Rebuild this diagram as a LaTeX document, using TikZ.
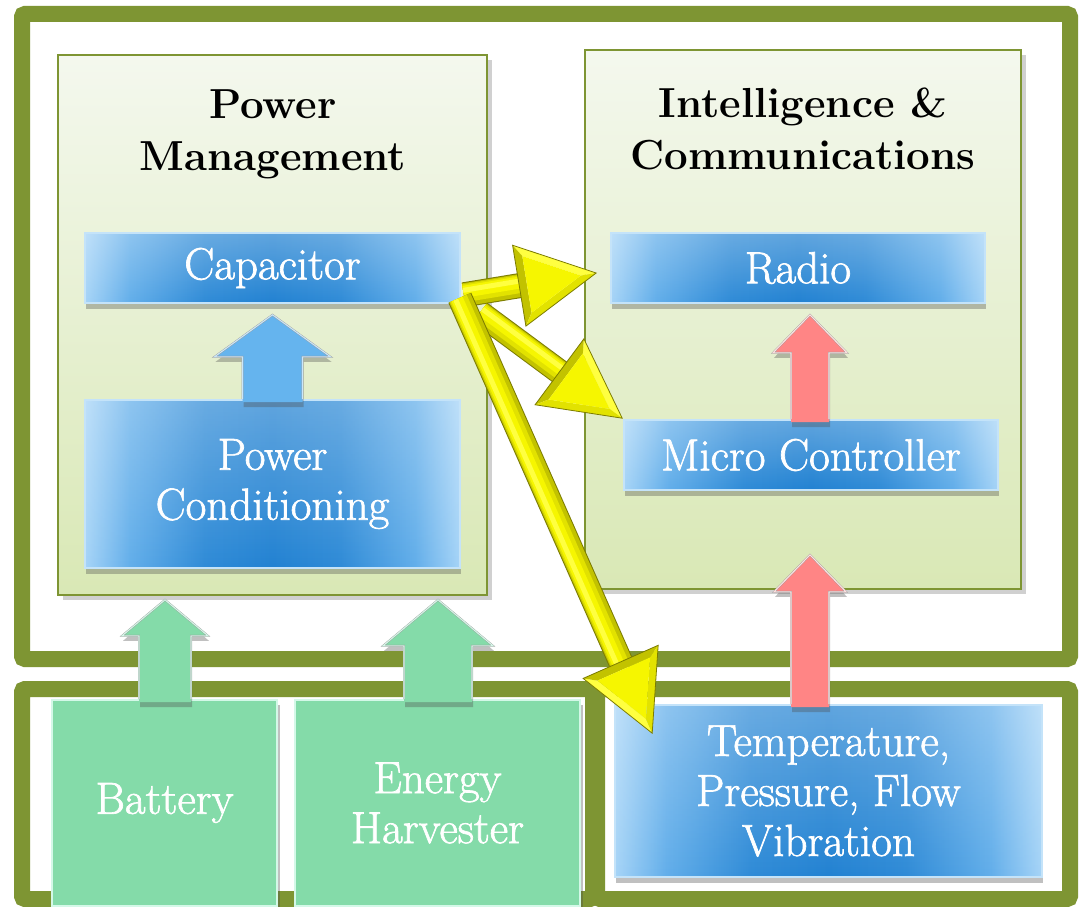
\documentclass[tikz,border=0pt]{standalone}
\usepackage{fontspec}
\usetikzlibrary{calc,shadows,fadings}

\newfontfamily\boxfont{Latin Modern Roman}[FakeBold=1.5]

\definecolor{frameOlive}{HTML}{7E9533}
\definecolor{panelTop}{HTML}{F4F8EE}
\definecolor{panelBot}{HTML}{D9E8B5}
\definecolor{blueLight}{HTML}{A6D4F7}
\definecolor{blueMid}{HTML}{62AEEA}
\definecolor{blueDeep}{HTML}{2282D2}
\definecolor{blueRim}{HTML}{C4E3F9}
\definecolor{seafoam}{HTML}{84DBA9}
\definecolor{seafoamRim}{HTML}{D4F8E8}
\definecolor{salmon}{HTML}{FF8585}
\definecolor{salmonRim}{HTML}{FFE0E0}
\definecolor{skyArrow}{HTML}{65B4EE}
\definecolor{skyRim}{HTML}{C9E6FA}
\definecolor{yOutline}{HTML}{7C7C00}
\definecolor{yDark}{HTML}{C2C200}
\definecolor{yMid}{HTML}{E2E200}
\definecolor{yMain}{HTML}{F6F600}
\definecolor{yBright}{HTML}{FFFF40}

% blue bar: light at both ends, deep in the middle
\pgfdeclarehorizontalshading{bluebar}{100bp}{%
  color(0bp)=(blueLight); color(25bp)=(blueLight); color(31bp)=(blueMid);
  color(41bp)=(blueDeep!80!blueMid); color(50bp)=(blueDeep);
  color(59bp)=(blueDeep!80!blueMid); color(69bp)=(blueMid);
  color(75bp)=(blueLight); color(100bp)=(blueLight)}
% soft light falling on the upper part of the blue bars
\tikzfading[name=glowtop, top color=transparent!72, bottom color=transparent!100]

\tikzset{
  frameline/.style={draw=frameOlive, line width=16pt, rounded corners=3pt},
  panel/.style={rectangle, draw=frameOlive, line width=1.6pt, top color=panelTop,
    bottom color=panelBot, inner sep=0pt,
    drop shadow={shadow xshift=5pt, shadow yshift=-5pt, opacity=0.3, fill=black!60}},
  paneltitle/.style={font=\fontsize{42}{52}\selectfont\bfseries, align=center, text=black},
  boxtext/.style={text=white, align=center, font=\boxfont\fontsize{45}{50}\selectfont},
  bluebox/.style={rectangle, shade, shading=bluebar, draw=blueRim, line width=1.6pt,
    inner sep=0pt, boxtext,
    path picture={\fill[white, path fading=glowtop]
      (path picture bounding box.south west) rectangle (path picture bounding box.north east);},
    drop shadow={shadow xshift=1pt, shadow yshift=-6pt, opacity=0.35, fill=black!70}},
  greenbox/.style={rectangle, fill=seafoam, draw=seafoamRim, line width=1.6pt,
    inner sep=0pt, boxtext,
    drop shadow={shadow xshift=3pt, shadow yshift=-5pt, opacity=0.35, fill=black!70}},
}

% upward block arrow: fill, rim, tail anchor, tip, head half width, head length, shaft half width
\newcommand\flowarrow[7]{%
  \fill[#1, drop shadow={shadow xshift=1pt, shadow yshift=-5pt, opacity=0.35, fill=black!70}]
    let \p1=(#3), \p2=(#4) in
    (\x2-#7,\y1-3) -- (\x2-#7,\y2-#6) -- (\x2-#5,\y2-#6) -- (\x2,\y2)
    -- (\x2+#5,\y2-#6) -- (\x2+#7,\y2-#6) -- (\x2+#7,\y1-3) -- cycle;
  \draw[draw=black!40, double=#2, double distance=1.1pt, line width=0.35pt, line join=miter]
    let \p1=(#3), \p2=(#4) in
    (\x2-#7,\y1) -- (\x2-#7,\y2-#6) -- (\x2-#5,\y2-#6) -- (\x2,\y2)
    -- (\x2+#5,\y2-#6) -- (\x2+#7,\y2-#6) -- (\x2+#7,\y1);
}

% bevelled yellow arrow: tail, tip, lit side angle, shaded side angle
\newcommand\boltarrow[4]{%
  \coordinate (ya) at (#1);
  \coordinate (yt) at (#2);
  \coordinate (yb) at ($(yt)!78pt!(ya)$);
  \coordinate (ye) at ($(yb)!4pt!(yt)$);
  \coordinate (yl) at ($(yb)!41pt!#3:(yt)$);
  \coordinate (yd) at ($(yb)!41pt!#4:(yt)$);
  \coordinate (yg) at ($0.3333*(yt)+0.3333*(yl)+0.3334*(yd)$);
  \coordinate (yt2) at ($(yg)!0.7!(yt)$);
  \coordinate (yl2) at ($(yg)!0.7!(yl)$);
  \coordinate (yd2) at ($(yg)!0.7!(yd)$);
  % shaft built from nested strokes
  \draw[line width=25pt, yOutline] (ya) -- (ye);
  \draw[line width=23pt, yDark] (ya) -- (ye);
  \draw[line width=18pt, yMid] ($(ya)!1.5pt!#3:(ye)$) -- ($(ye)!1.5pt!#4:(ya)$);
  \draw[line width=12pt, yMain] ($(ya)!3pt!#3:(ye)$) -- ($(ye)!3pt!#4:(ya)$);
  \draw[line width=5pt, yBright] ($(ya)!4.5pt!#3:(ye)$) -- ($(ye)!4.5pt!#4:(ya)$);
  % head with bevelled facets
  \fill[yBright] (yt) -- (yl) -- (yl2) -- (yt2) -- cycle;
  \fill[yDark] (yl) -- (yd) -- (yd2) -- (yl2) -- cycle;
  \fill[yMid] (yd) -- (yt) -- (yt2) -- (yd2) -- cycle;
  \fill[yMain] (yt2) -- (yl2) -- (yd2) -- cycle;
  \draw[yOutline, line width=0.8pt, line join=miter] (yt) -- (yl) -- (yd) -- cycle;
}

\begin{document}
\begin{tikzpicture}[x=1pt, y=-1pt]
\useasboundingbox (0,0) rectangle (1080,907);
\fill[white] (0,0) rectangle (1080,907);

% olive frames
\draw[frameline] (22,14) rectangle (1070,659);
\draw[frameline] (22,689) rectangle (593,899);
\draw[frameline] (597,689) rectangle (1070,899);

% panels
\node[panel, minimum width=429pt, minimum height=540pt] (pm) at (272.5,325) {};
\node[panel, minimum width=436pt, minimum height=539pt] (ic) at (803,319.5) {};
\node[paneltitle] (pmtitle) at (273,134) {Power\\Management};
\node[paneltitle] (ictitle) at (803,129) {Intelligence \&\\Communications};

% blocks inside the panels
\node[bluebox, minimum width=375pt, minimum height=70pt] (cap) at (272.5,268) {Capacitor};
\node[bluebox, minimum width=375pt, minimum height=168pt] (pc) at (272.5,484) {Power\\Conditioning};
\node[bluebox, minimum width=374pt, minimum height=70pt] (radio) at (798,268) {Radio};
\node[bluebox, minimum width=374pt, minimum height=70pt] (micro) at (811,455) {Micro Controller};

\flowarrow{skyArrow}{skyRim}{pc.north}{$(cap.south)+(0,11)$}{58}{42}{30}
\flowarrow{salmon}{salmonRim}{micro.north}{$(radio.south)+(12,11)$}{37}{38}{19}

% sources and sensors
\node[greenbox, minimum width=225pt, minimum height=206pt] (bat) at (164.5,803) {Battery};
\node[greenbox, minimum width=285pt, minimum height=206pt] (eh) at (437.5,803) {Energy\\Harvester};
\node[bluebox, minimum width=427pt, minimum height=172pt] (temp) at (828.5,791) {Temperature,\\Pressure, Flow\\Vibration};

\flowarrow{seafoam}{seafoamRim}{bat.north}{$(pm.south)+(-107.5,4)$}{43}{36}{26}
\flowarrow{seafoam}{seafoamRim}{eh.north}{$(pm.south)+(165.5,4)$}{55}{46}{34}
\flowarrow{salmon}{salmonRim}{temp.north}{$(micro.south)+(-1,64)$}{36}{37}{19}

% power distribution from the capacitor
\boltarrow{$(cap.south east)+(3,-9)$}{$(radio.west)+(-14,5)$}{90}{-90}
\boltarrow{$(cap.south east)+(19,9)$}{$(micro.north west)+(-1,-1)$}{90}{-90}
\boltarrow{$(cap.south east)+(-1,-6)$}{$(temp.north west)+(38,29)$}{-90}{90}
\end{tikzpicture}
\end{document}
